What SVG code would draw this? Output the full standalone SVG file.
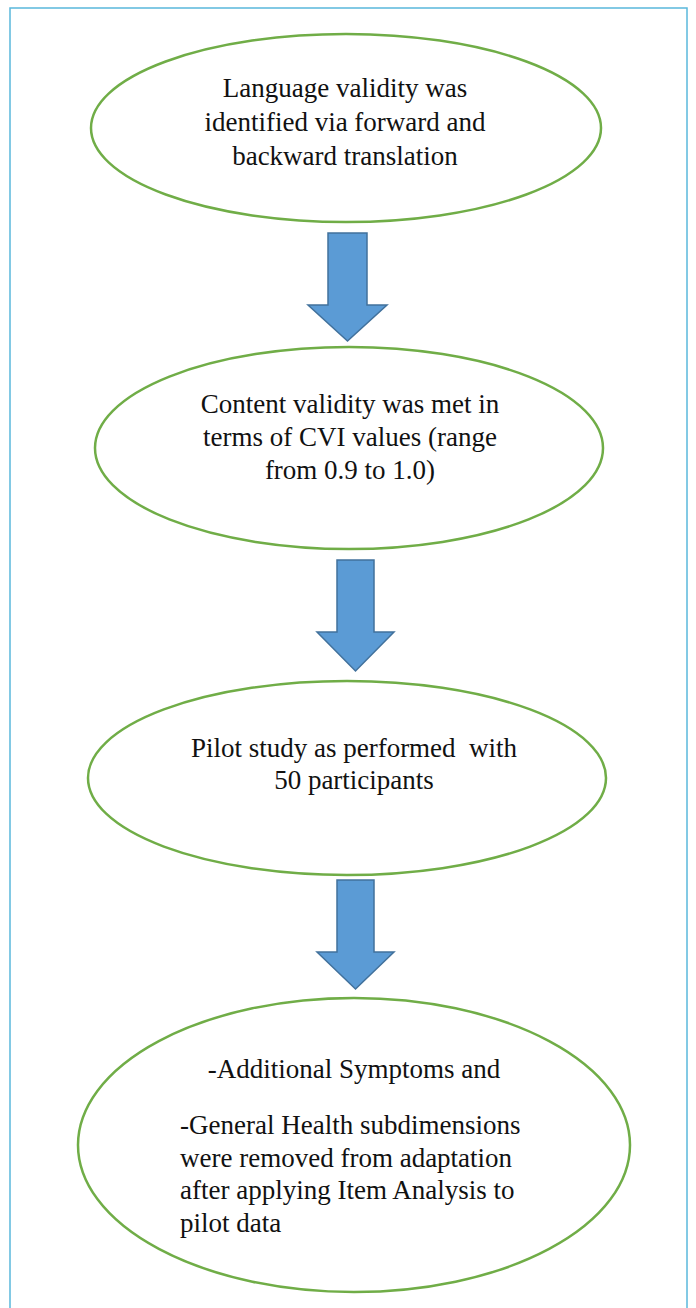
<svg xmlns="http://www.w3.org/2000/svg" width="696" height="1308" viewBox="0 0 696 1308">
<style>
.frame{fill:#ffffff;stroke:#5ab8dc;stroke-width:1.5}
.node{fill:#ffffff;stroke:#70ad47;stroke-width:2.5}
.arrow{fill:#5b9bd5;stroke:#41719c;stroke-width:1.5;stroke-linejoin:miter}
text{font-family:"Liberation Serif","Times New Roman",serif;font-size:27px;fill:#111111}
.c{text-anchor:middle}
.pre{white-space:pre}
</style>
<rect width="696" height="1308" fill="#ffffff"/>
<rect class="frame" x="10" y="8" width="677" height="1320"/>
<g id="connectors">
<polygon class="arrow" points="328,233 367,233 367,305 387,305 347.5,341 308,305 328,305"/>
<polygon class="arrow" points="337,560 374,560 374,632 394,632 355.5,671 317,632 337,632"/>
<polygon class="arrow" points="337,880 374,880 374,952 394,952 355.5,989 317,952 337,952"/>
</g>
<g id="node1">
<ellipse class="node" cx="346" cy="128" rx="255" ry="94"/>
<text class="c" x="345" y="97">Language validity was</text>
<text class="c" x="345" y="131">identified via forward and</text>
<text class="c" x="345" y="165">backward translation</text>
</g>
<g id="node2">
<ellipse class="node" cx="349" cy="448" rx="254" ry="101"/>
<text class="c" x="350" y="413">Content validity was met in</text>
<text class="c" x="350" y="446">terms of CVI values (range</text>
<text class="c" x="350" y="479">from 0.9 to 1.0)</text>
</g>
<g id="node3">
<ellipse class="node" cx="347" cy="778" rx="259" ry="97"/>
<text class="c pre" x="354" y="757" xml:space="preserve">Pilot study as performed  with</text>
<text class="c" x="354" y="789">50 participants</text>
</g>
<g id="node4">
<ellipse class="node" cx="354" cy="1145" rx="276" ry="147"/>
<text class="c" x="354" y="1078">-Additional Symptoms and</text>
<text x="180" y="1134">-General Health subdimensions</text>
<text x="180" y="1167">were removed from adaptation</text>
<text x="180" y="1199">after applying Item Analysis to</text>
<text x="180" y="1232">pilot data</text>
</g>
</svg>
